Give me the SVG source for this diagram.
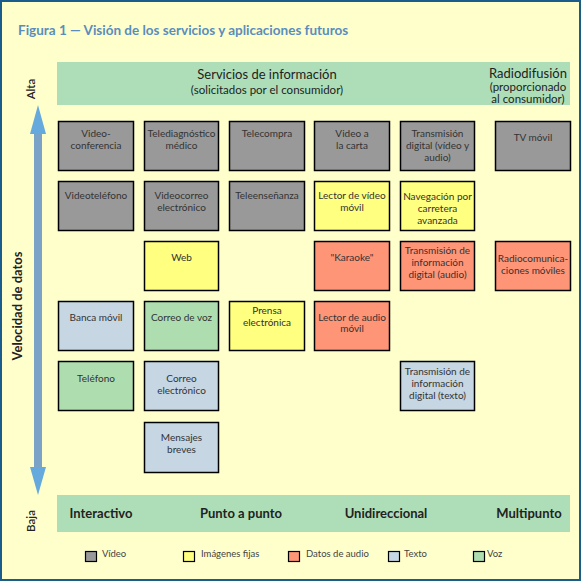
<svg xmlns="http://www.w3.org/2000/svg" width="582" height="582" viewBox="0 0 582 582">
<defs>
<style>
.n rect{stroke:#000;stroke-width:1.5}
.n text,.lg text{font-family:Lato,"Liberation Sans",sans-serif;font-size:10px;fill:#333;text-anchor:middle}
.vid{fill:#999999}.img{fill:#FFFF80}.aud{fill:#FF9577}.txt{fill:#C6D6E2}.voz{fill:#AEDEB0}
.bar{fill:#AEDEB8}
.h{font-family:Lato,"Liberation Sans",sans-serif;fill:#222}
.lg rect{stroke:#000;stroke-width:1.2}
.lg text{text-anchor:start;font-size:9.5px;fill:#444}
</style>
</defs>
<rect x="1" y="1" width="579" height="579" fill="#FFFFCC" stroke="#1A5C8C" stroke-width="2"/>
<text x="18" y="35" font-family="Lato,'Liberation Sans',sans-serif" font-weight="bold" font-size="13.5" fill="#5A8DBE">Figura 1 — Visión de los servicios y aplicaciones futuros</text>

<g id="topbar">
<rect class="bar" x="57" y="62" width="513" height="43"/>
<text class="h" x="267" y="79" font-size="13" text-anchor="middle">Servicios de información</text>
<text class="h" x="267" y="94" font-size="11.5" text-anchor="middle">(solicitados por el consumidor)</text>
<text class="h" x="528" y="78" font-size="13" text-anchor="middle">Radiodifusión</text>
<text class="h" x="528" y="91" font-size="11.5" text-anchor="middle">(proporcionado</text>
<text class="h" x="528" y="103" font-size="11.5" text-anchor="middle">al consumidor)</text>
</g>

<g id="axis">
<rect x="34" y="130" width="8" height="340" fill="#7BA3C8"/>
<polygon points="38,105 30,134 46,134" fill="#66AADD"/>
<polygon points="38,495 30,467 46,467" fill="#66AADD"/>
<text class="h" transform="translate(35,89) rotate(-90)" font-size="11.5" text-anchor="middle" font-weight="600">Alta</text>
<text class="h" transform="translate(35,521) rotate(-90)" font-size="11.5" text-anchor="middle" font-weight="600">Baja</text>
<text class="h" transform="translate(22,306) rotate(-90)" font-size="13" text-anchor="middle" font-weight="bold">Velocidad de datos</text>
</g>

<g id="botbar">
<rect class="bar" x="57" y="495" width="513" height="37"/>
<text class="h" x="101" y="518" font-size="13" font-weight="bold" text-anchor="middle">Interactivo</text>
<text class="h" x="241" y="518" font-size="13" font-weight="bold" text-anchor="middle">Punto a punto</text>
<text class="h" x="386" y="518" font-size="13" font-weight="bold" text-anchor="middle">Unidireccional</text>
<text class="h" x="529" y="518" font-size="13" font-weight="bold" text-anchor="middle">Multipunto</text>
</g>

<g id="connectors"></g>

<!-- row 1 -->
<g id="videoconferencia" class="n"><rect class="vid" x="58.5" y="121.5" width="75" height="49"/><text x="96" y="137">Video-</text><text x="96" y="149">conferencia</text></g>
<g id="telediagnostico" class="n"><rect class="vid" x="144.5" y="121.5" width="74" height="49"/><text x="181.5" y="137">Telediagnóstico</text><text x="181.5" y="149">médico</text></g>
<g id="telecompra" class="n"><rect class="vid" x="229.5" y="121.5" width="75" height="49"/><text x="267" y="137">Telecompra</text></g>
<g id="videoalacarta" class="n"><rect class="vid" x="314.5" y="121.5" width="75" height="49"/><text x="352" y="137">Video a</text><text x="352" y="149">la carta</text></g>
<g id="transvideo" class="n"><rect class="vid" x="400.5" y="121.5" width="74" height="49"/><text x="437.5" y="137">Transmisión</text><text x="437.5" y="149">digital (vídeo y</text><text x="437.5" y="161">audio)</text></g>
<g id="tvmovil" class="n"><rect class="vid" x="495.5" y="121.5" width="75" height="49"/><text x="533" y="141">TV móvil</text></g>

<!-- row 2 -->
<g id="videotelefono" class="n"><rect class="vid" x="58.5" y="181.5" width="75" height="49"/><text x="96" y="199">Videoteléfono</text></g>
<g id="videocorreo" class="n"><rect class="vid" x="144.5" y="181.5" width="74" height="49"/><text x="181.5" y="199">Videocorreo</text><text x="181.5" y="211">electrónico</text></g>
<g id="teleensenanza" class="n"><rect class="vid" x="229.5" y="181.5" width="75" height="49"/><text x="267" y="199">Teleenseñanza</text></g>
<g id="lectorvideo" class="n"><rect class="img" x="314.5" y="181.5" width="75" height="49"/><text x="352" y="199">Lector de vídeo</text><text x="352" y="211">móvil</text></g>
<g id="navegacion" class="n"><rect class="img" x="400.5" y="181.5" width="74" height="49"/><text x="437.5" y="200">Navegación por</text><text x="437.5" y="212">carretera</text><text x="437.5" y="224">avanzada</text></g>

<!-- row 3 -->
<g id="web" class="n"><rect class="img" x="144.5" y="241.5" width="74" height="49"/><text x="181.5" y="261">Web</text></g>
<g id="karaoke" class="n"><rect class="aud" x="314.5" y="241.5" width="75" height="49"/><text x="352" y="261">"Karaoke"</text></g>
<g id="transaudio" class="n"><rect class="aud" x="400.5" y="241.5" width="74" height="49"/><text x="437.5" y="254">Transmisión de</text><text x="437.5" y="266">información</text><text x="437.5" y="278">digital (audio)</text></g>
<g id="radiocom" class="n"><rect class="aud" x="495.5" y="241.5" width="75" height="49"/><text x="533" y="261.5">Radiocomunica-</text><text x="533" y="274">ciones móviles</text></g>

<!-- row 4 -->
<g id="bancamovil" class="n"><rect class="txt" x="58.5" y="301.5" width="75" height="49"/><text x="96" y="321">Banca móvil</text></g>
<g id="correovoz" class="n"><rect class="voz" x="144.5" y="301.5" width="74" height="49"/><text x="181.5" y="321">Correo de voz</text></g>
<g id="prensa" class="n"><rect class="img" x="229.5" y="301.5" width="75" height="49"/><text x="267" y="314">Prensa</text><text x="267" y="325.5">electrónica</text></g>
<g id="lectoraudio" class="n"><rect class="aud" x="314.5" y="301.5" width="75" height="49"/><text x="352" y="321">Lector de audio</text><text x="352" y="332">móvil</text></g>

<!-- row 5 -->
<g id="telefono" class="n"><rect class="voz" x="58.5" y="361.5" width="75" height="49"/><text x="96" y="382">Teléfono</text></g>
<g id="correoelec" class="n"><rect class="txt" x="144.5" y="361.5" width="74" height="49"/><text x="181.5" y="382">Correo</text><text x="181.5" y="394">electrónico</text></g>
<g id="transtexto" class="n"><rect class="txt" x="400.5" y="361.5" width="74" height="49"/><text x="437.5" y="375">Transmisión de</text><text x="437.5" y="387">información</text><text x="437.5" y="399">digital (texto)</text></g>

<!-- row 6 -->
<g id="mensajes" class="n"><rect class="txt" x="144.5" y="422.5" width="74" height="50"/><text x="181.5" y="441">Mensajes</text><text x="181.5" y="453">breves</text></g>

<g id="legend" class="lg">
<rect class="vid" x="85.5" y="551.5" width="11" height="10"/><text x="102" y="557">Vídeo</text>
<rect class="img" x="183.5" y="551.5" width="11" height="10"/><text x="201" y="557">Imágenes fijas</text>
<rect class="aud" x="288.5" y="551.5" width="11" height="10"/><text x="306" y="557">Datos de audio</text>
<rect class="txt" x="388.5" y="551.5" width="11" height="10"/><text x="404" y="557">Texto</text>
<rect class="voz" x="473.5" y="551.5" width="11" height="10"/><text x="487" y="557">Voz</text>
</g>
</svg>
